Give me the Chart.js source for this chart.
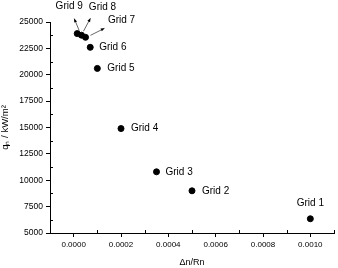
<!DOCTYPE html>
<html>
<head>
<meta charset="utf-8">
<script src="https://cdn.jsdelivr.net/npm/chart.js@4"></script>
<style>
  html, body { margin: 0; padding: 0; background: #fff; }
  #wrap { width: 338px; height: 268px; }
</style>
</head>
<body>
<div id="wrap"><canvas id="gridChart"></canvas></div>
<script>
// mesh study values
const gridLabels = ['Grid 1', 'Grid 2', 'Grid 3', 'Grid 4', 'Grid 5', 'Grid 6', 'Grid 7', 'Grid 8', 'Grid 9'];
const dnRn = [0.001, 0.0005, 0.00035, 0.0002, 0.0001, 0.00007, 0.00005, 0.000033, 0.000015];
const qn = [6350, 9000, 10800, 14900, 20600, 22600, 23550, 23750, 23900];
const xTicks = [0, 0.0002, 0.0004, 0.0006, 0.0008, 0.001];
const xMinor = [-0.0001, 0.0001, 0.0003, 0.0005, 0.0007, 0.0009, 0.0011];
const yTicks = [5000, 7500, 10000, 12500, 15000, 17500, 20000, 22500, 25000];
const yMinor = [6250, 8750, 11250, 13750, 16250, 18750, 21250, 23750];

const FONT = "'Liberation Sans', Arial, sans-serif";

// where each label sits relative to its point; arrow = [tailX, tailY, headX, headY]
const labelPlace = {
  'Grid 1': { dx: 0, dy: -16, align: 'center' },
  'Grid 2': { dx: 10, dy: 0, align: 'left' },
  'Grid 3': { dx: 9, dy: 0, align: 'left' },
  'Grid 4': { dx: 10, dy: 0, align: 'left' },
  'Grid 5': { dx: 10, dy: 0, align: 'left' },
  'Grid 6': { dx: 9, dy: 0, align: 'left' },
  'Grid 7': { dx: 36, dy: -17, align: 'center', arrow: [5, -2, 19, -9] },
  'Grid 8': { dx: 21, dy: -28, align: 'center', arrow: [2, -4, 9, -17] },
  'Grid 9': { dx: -8, dy: -27, align: 'center', arrow: [2, -3, -3, -15] }
};

const labelPlugin = {
  id: 'gridLabels',
  afterDatasetsDraw(chart) {
    const ctx = chart.ctx;
    const meta = chart.getDatasetMeta(0);
    ctx.save();
    ctx.font = '10px ' + FONT;
    ctx.fillStyle = '#000';
    ctx.strokeStyle = '#000';
    ctx.textBaseline = 'middle';
    meta.data.forEach((pt, i) => {
      const p = labelPlace[gridLabels[i]];
      ctx.textAlign = p.align;
      ctx.fillText(gridLabels[i], pt.x + p.dx, pt.y + p.dy);
      if (p.arrow) {
        const tx = pt.x + p.arrow[0], ty = pt.y + p.arrow[1];
        const hx = pt.x + p.arrow[2], hy = pt.y + p.arrow[3];
        ctx.lineWidth = 0.6;
        ctx.beginPath();
        ctx.moveTo(tx, ty);
        ctx.lineTo(hx, hy);
        ctx.stroke();
        const ang = Math.atan2(hy - ty, hx - tx);
        ctx.beginPath();
        ctx.moveTo(hx, hy);
        ctx.lineTo(hx - 4 * Math.cos(ang - 0.4), hy - 4 * Math.sin(ang - 0.4));
        ctx.lineTo(hx - 4 * Math.cos(ang + 0.4), hy - 4 * Math.sin(ang + 0.4));
        ctx.closePath();
        ctx.fill();
      }
    });
    ctx.restore();
  }
};

const minorTicks = {
  id: 'minorTicks',
  afterDraw(chart) {
    const ctx = chart.ctx;
    const xs = chart.scales.x, ys = chart.scales.y;
    ctx.save();
    ctx.strokeStyle = '#000';
    ctx.lineWidth = 1;
    ctx.beginPath();
    xMinor.forEach(v => {
      const px = Math.round(xs.getPixelForValue(v)) + 0.5;
      ctx.moveTo(px, ys.bottom);
      ctx.lineTo(px, ys.bottom - 3);
    });
    yMinor.forEach(v => {
      const py = Math.round(ys.getPixelForValue(v)) + 0.5;
      ctx.moveTo(xs.left, py);
      ctx.lineTo(xs.left + 3, py);
    });
    ctx.stroke();
    ctx.restore();
  }
};

new Chart(document.getElementById('gridChart'), {
  type: 'scatter',
  data: {
    datasets: [{
      label: 'qn',
      data: dnRn.map((x, i) => ({ x, y: qn[i] })),
      backgroundColor: '#000',
      borderColor: '#000',
      pointRadius: 3,
      pointHoverRadius: 3
    }]
  },
  options: {
    responsive: true,
    maintainAspectRatio: false,
    animation: false,
    layout: { padding: { top: 22, right: 4, left: 0, bottom: 0 } },
    plugins: { legend: { display: false }, tooltip: { enabled: false } },
    scales: {
      x: {
        min: -0.0001,
        max: 0.0011,
        afterBuildTicks: s => { s.ticks = xTicks.map(v => ({ value: v })); },
        afterFit: s => { s.height = 35; },
        border: { display: true, color: '#000', width: 1 },
        grid: { drawOnChartArea: false, drawTicks: true, tickLength: 4, color: '#000' },
        ticks: {
          color: '#000', font: { family: FONT, size: 8 }, padding: 3, maxRotation: 0,
          callback: v => v.toFixed(4)
        },
        title: { display: true, text: '\u0394n/Rn', color: '#000', font: { family: FONT, size: 9 }, padding: { top: 5, bottom: 0 } }
      },
      y: {
        min: 5000,
        max: 25000,
        afterBuildTicks: s => { s.ticks = yTicks.map(v => ({ value: v })); },
        afterFit: s => { s.width = 50; },
        border: { display: true, color: '#000', width: 1 },
        grid: { drawOnChartArea: false, drawTicks: true, tickLength: 4, color: '#000' },
        ticks: { color: '#000', font: { family: FONT, size: 8.5 }, padding: 3, callback: v => String(v) },
        title: { display: true, text: 'q\u2099 / kW/m\u00b2', color: '#000', font: { family: FONT, size: 9.5 }, padding: { top: 0, bottom: 2 } }
      }
    }
  },
  plugins: [labelPlugin, minorTicks]
});
</script>
</body>
</html>
